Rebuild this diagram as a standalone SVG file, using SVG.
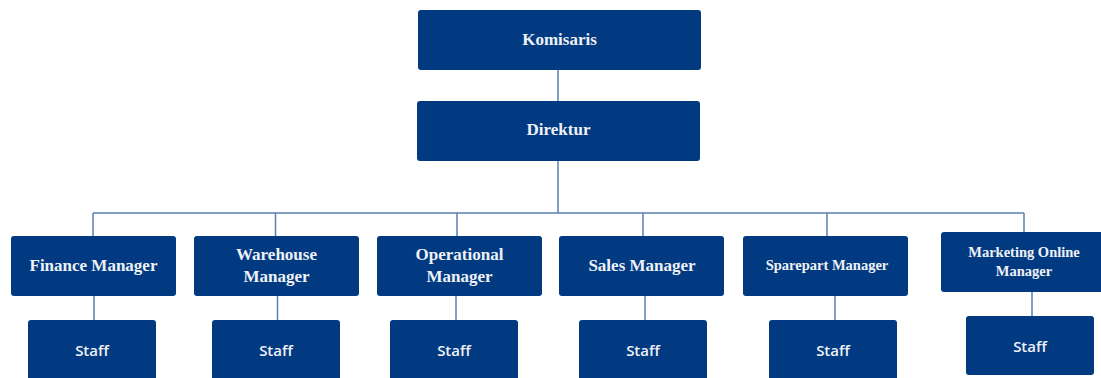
<svg xmlns="http://www.w3.org/2000/svg" width="1101" height="378" viewBox="0 0 1101 378">
<style>
.box{fill:#023a81;}
.line{stroke:#5a7fb2;stroke-width:1.5;fill:none;}
.t{font-family:"Liberation Serif","DejaVu Serif",serif;font-weight:bold;fill:#eef1f6;text-anchor:middle;dominant-baseline:central;font-size:17px;}
.ts{font-size:14.5px;}
.s{font-family:"Open Sans","Liberation Sans",sans-serif;font-weight:600;fill:#eef1f6;text-anchor:middle;dominant-baseline:central;font-size:15px;}
</style>
<rect width="1101" height="378" fill="#ffffff"/>
<g id="connectors">
<line class="line" x1="558" y1="70" x2="558" y2="101"/>
<line class="line" x1="558" y1="161" x2="558" y2="213"/>
<line class="line" x1="93" y1="213" x2="1024" y2="213"/>
<line class="line" x1="93" y1="213" x2="93" y2="236"/>
<line class="line" x1="275.5" y1="213" x2="275.5" y2="236"/>
<line class="line" x1="457" y1="213" x2="457" y2="236"/>
<line class="line" x1="643" y1="213" x2="643" y2="236"/>
<line class="line" x1="827" y1="213" x2="827" y2="236"/>
<line class="line" x1="1024" y1="213" x2="1024" y2="232"/>
<line class="line" x1="94" y1="296" x2="94" y2="320"/>
<line class="line" x1="277.5" y1="296" x2="277.5" y2="320"/>
<line class="line" x1="456" y1="296" x2="456" y2="320"/>
<line class="line" x1="645" y1="296" x2="645" y2="320"/>
<line class="line" x1="835" y1="296" x2="835" y2="320"/>
<line class="line" x1="1032" y1="292" x2="1032" y2="316"/>
</g>
<g id="komisaris"><rect class="box" x="418" y="10" width="283" height="60" rx="3"/><text class="t" x="559.5" y="39">Komisaris</text></g>
<g id="direktur"><rect class="box" x="417" y="101" width="283" height="60" rx="3"/><text class="t" x="558.5" y="129">Direktur</text></g>
<g id="finance"><rect class="box" x="11" y="236" width="165" height="60" rx="3"/><text class="t" x="93.5" y="265">Finance Manager</text></g>
<g id="warehouse"><rect class="box" x="194" y="236" width="165" height="60" rx="3"/><text class="t" x="276.5" y="254">Warehouse</text><text class="t" x="276.5" y="276.5">Manager</text></g>
<g id="operational"><rect class="box" x="377" y="236" width="165" height="60" rx="3"/><text class="t" x="459.5" y="254">Operational</text><text class="t" x="459.5" y="276.5">Manager</text></g>
<g id="sales"><rect class="box" x="559" y="236" width="165" height="60" rx="3"/><text class="t" x="642" y="265">Sales Manager</text></g>
<g id="sparepart"><rect class="box" x="743" y="236" width="165" height="60" rx="3"/><text class="t ts" x="827" y="265">Sparepart Manager</text></g>
<g id="marketing"><rect class="box" x="941" y="232" width="165" height="60" rx="3"/><text class="t ts" x="1024" y="252">Marketing Online</text><text class="t ts" x="1024" y="270.5">Manager</text></g>
<g id="staff-finance"><rect class="box" x="28" y="320" width="128" height="64" rx="3"/><text class="s" x="92" y="350">Staff</text></g>
<g id="staff-warehouse"><rect class="box" x="212" y="320" width="128" height="64" rx="3"/><text class="s" x="276" y="350">Staff</text></g>
<g id="staff-operational"><rect class="box" x="390" y="320" width="128" height="64" rx="3"/><text class="s" x="454" y="350">Staff</text></g>
<g id="staff-sales"><rect class="box" x="579" y="320" width="128" height="64" rx="3"/><text class="s" x="643" y="350">Staff</text></g>
<g id="staff-sparepart"><rect class="box" x="769" y="320" width="128" height="64" rx="3"/><text class="s" x="833" y="350">Staff</text></g>
<g id="staff-marketing"><rect class="box" x="966" y="316" width="128" height="59" rx="3"/><text class="s" x="1030" y="345.5">Staff</text></g>
</svg>
